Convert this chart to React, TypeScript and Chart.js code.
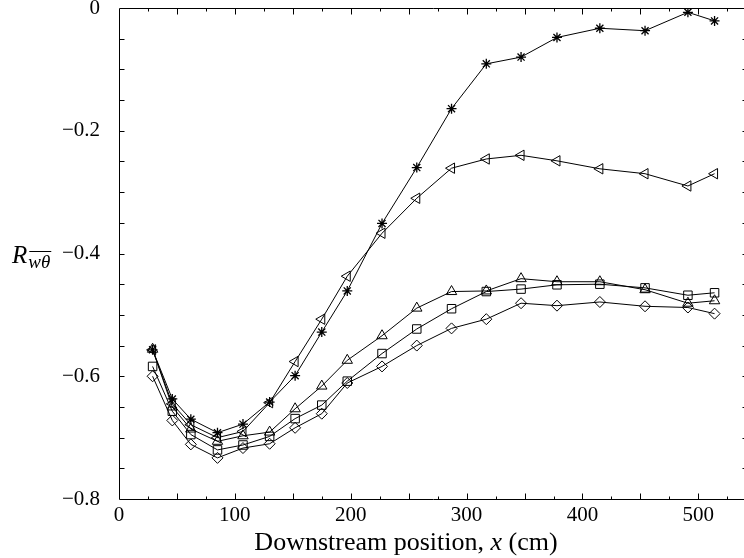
import React, { useEffect, useRef } from "react";
import { Chart, registerables } from "chart.js";

Chart.register(...registerables);

// ---- data ----
const xPositions = [29, 46, 62, 85, 107, 130, 152, 175, 197, 227, 257, 287, 317, 347, 378, 415, 454, 491, 514];

const starSeries = [-0.557, -0.637, -0.670, -0.692, -0.678, -0.642, -0.599, -0.528, -0.461, -0.351, -0.260, -0.164, -0.091, -0.080, -0.048, -0.033, -0.037, -0.007, -0.021];
const leftTriangleSeries = [-0.557, -0.645, -0.679, -0.700, -0.690, -0.643, -0.576, -0.507, -0.437, -0.367, -0.310, -0.261, -0.246, -0.240, -0.249, -0.262, -0.270, -0.290, -0.270];
const upTriangleSeries = [-0.556, -0.650, -0.686, -0.706, -0.697, -0.691, -0.653, -0.616, -0.574, -0.534, -0.489, -0.462, -0.461, -0.441, -0.446, -0.446, -0.459, -0.481, -0.477];
const squareSeries = [-0.584, -0.657, -0.695, -0.720, -0.712, -0.698, -0.669, -0.647, -0.608, -0.563, -0.523, -0.490, -0.462, -0.458, -0.451, -0.450, -0.456, -0.468, -0.464];
const diamondSeries = [-0.600, -0.672, -0.711, -0.733, -0.717, -0.710, -0.684, -0.661, -0.611, -0.584, -0.550, -0.522, -0.507, -0.481, -0.485, -0.479, -0.486, -0.488, -0.498];

const xTickValues = [0, 100, 200, 300, 400, 500];
const yTickValues = [0, -0.2, -0.4, -0.6, -0.8];
const xMin = 0;
const xMax = 542;
const yMin = -0.8;
const yMax = 0;

const xTitleParts = ["Downstream position, ", "x", " (cm)"];
const yTitleMain = "R";
const yTitleSub = "wθ";

const SERIF = "'Liberation Serif', 'Times New Roman', serif";

function fmtY(v: number): string {
  if (Math.abs(v) < 1e-9) return "0";
  return (v < 0 ? "\u2212" : "") + Math.abs(v).toFixed(1);
}

const framePlugin = {
  id: "frameAndTitles",
  afterDraw(chart: any) {
    const ctx = chart.ctx as CanvasRenderingContext2D;
    const { left, right, top, bottom } = chart.chartArea;
    const xs = chart.scales.x;
    const ys = chart.scales.y;
    ctx.save();
    ctx.strokeStyle = "#000";
    ctx.lineWidth = 1;
    const L = Math.round(left) + 0.5;
    const R = Math.round(right) + 0.5;
    const T = Math.round(top) + 0.5;
    const B = Math.round(bottom) + 0.5;
    ctx.beginPath();
    ctx.rect(L, T, R - L, B - T);
    ctx.stroke();
    // x ticks (inward) every 25, longer every 50
    ctx.beginPath();
    for (let v = 25; v < xMax; v += 25) {
      const px = Math.round(xs.getPixelForValue(v)) + 0.5;
      const len = v % 50 === 0 ? 6 : 3;
      ctx.moveTo(px, B);
      ctx.lineTo(px, B - len);
      ctx.moveTo(px, T);
      ctx.lineTo(px, T + len);
    }
    // y ticks every 0.05
    for (let i = 1; i < 16; i++) {
      const v = -0.05 * i;
      const py = Math.round(ys.getPixelForValue(v)) + 0.5;
      const len = 5;
      ctx.moveTo(L, py);
      ctx.lineTo(L + len, py);
      ctx.moveTo(R, py);
      ctx.lineTo(R - len, py);
    }
    ctx.stroke();

    // x title
    ctx.fillStyle = "#000";
    ctx.textBaseline = "alphabetic";
    const fs = 26;
    const fonts = [`${fs}px ${SERIF}`, `italic ${fs}px ${SERIF}`, `${fs}px ${SERIF}`];
    let total = 0;
    const widths: number[] = [];
    xTitleParts.forEach((p, i) => {
      ctx.font = fonts[i];
      const w = ctx.measureText(p).width;
      widths.push(w);
      total += w;
    });
    let cx = 406 - total / 2;
    xTitleParts.forEach((p, i) => {
      ctx.font = fonts[i];
      ctx.textAlign = "left";
      ctx.fillText(p, cx, 550);
      cx += widths[i];
    });

    // y title: R with overlined subscript wθ
    ctx.font = `italic 25px ${SERIF}`;
    ctx.fillText(yTitleMain, 12, 263);
    const rw = ctx.measureText(yTitleMain).width;
    ctx.font = `italic 19px ${SERIF}`;
    const sx = 12 + rw + 1;
    ctx.fillText(yTitleSub, sx, 268);
    const sw = ctx.measureText(yTitleSub).width;
    ctx.beginPath();
    ctx.moveTo(sx + 1, 251.5);
    ctx.lineTo(sx + sw + 1, 251.5);
    ctx.stroke();
    ctx.restore();
  },
};

function makeSet(label: string, ys: number[], style: string, radius: number, rotation: number, pbw: number) {
  return {
    label,
    data: xPositions.map((x, i) => ({ x, y: ys[i] })),
    borderColor: "#000",
    borderWidth: 1,
    backgroundColor: "rgba(0,0,0,0)",
    pointStyle: style,
    pointRadius: radius,
    pointRotation: rotation,
    pointBorderColor: "#000",
    pointBackgroundColor: "rgba(0,0,0,0)",
    pointBorderWidth: pbw,
    tension: 0,
    fill: false,
  };
}

export default function App() {
  const ref = useRef<HTMLCanvasElement | null>(null);
  useEffect(() => {
    if (!ref.current) return;
    const chart = new Chart(ref.current, {
      type: "line",
      data: {
        datasets: [
          makeSet("star", starSeries, "star", 5, 0, 1.3),
          makeSet("left", leftTriangleSeries, "triangle", 6, -90, 1),
          makeSet("up", upTriangleSeries, "triangle", 6, 0, 1),
          makeSet("square", squareSeries, "rect", 6, 0, 1),
          makeSet("diamond", diamondSeries, "rectRot", 5.5, 0, 1),
        ] as any,
      },
      options: {
        animation: false,
        responsive: false,
        devicePixelRatio: 1,
        layout: { padding: { top: 8, right: 13, left: 0, bottom: 0 } },
        plugins: { legend: { display: false }, tooltip: { enabled: false }, title: { display: false } },
        scales: {
          x: {
            type: "linear",
            min: xMin,
            max: xMax,
            grid: { display: false },
            border: { display: false },
            afterBuildTicks: (s: any) => {
              s.ticks = xTickValues.map((v) => ({ value: v }));
            },
            afterFit: (s: any) => {
              s.height = 59;
              s.paddingLeft = 0;
              s.paddingRight = 0;
            },
            ticks: {
              color: "#000",
              padding: -4,
              maxRotation: 0,
              font: { family: SERIF, size: 21 },
              callback: (v: any) => String(v),
            },
          },
          y: {
            type: "linear",
            min: yMin,
            max: yMax,
            grid: { display: false },
            border: { display: false },
            afterBuildTicks: (s: any) => {
              s.ticks = yTickValues.map((v) => ({ value: v }));
            },
            afterFit: (s: any) => {
              s.width = 119;
              s.paddingTop = 0;
              s.paddingBottom = 0;
            },
            ticks: {
              color: "#000",
              padding: 11,
              font: { family: SERIF, size: 21 },
              callback: (v: any) => fmtY(Number(v)),
            },
          },
        },
      } as any,
      plugins: [framePlugin],
    });
    return () => chart.destroy();
  }, []);
  return (
    <div style={{ position: "fixed", left: 0, top: 0, width: 744, height: 558, overflow: "hidden", background: "#fff" }}>
      <canvas ref={ref} width={760} height={558} style={{ display: "block" }} />
    </div>
  );
}
